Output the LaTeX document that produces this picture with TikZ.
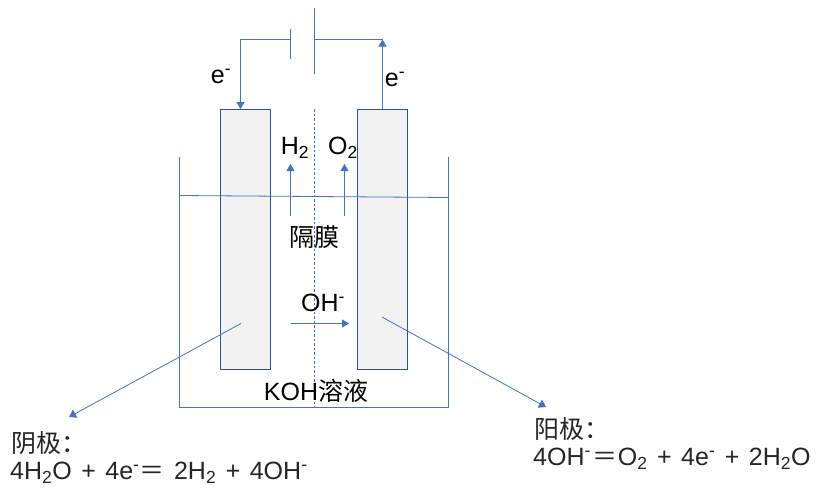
\documentclass[tikz,border=0pt]{standalone}
\usepackage{fontspec}
\setmainfont{Liberation Sans}
\newfontfamily\cjk{Noto Sans CJK SC}
\usepackage{tikz}
\usetikzlibrary{arrows.meta}
\definecolor{ELBlue}{RGB}{68,114,196}
\definecolor{ELNavy}{RGB}{47,82,143}
\definecolor{ELFill}{RGB}{242,242,242}
\definecolor{ELText}{RGB}{38,38,38}
\newcommand{\sub}[1]{\textsubscript{#1}}
\newcommand{\minus}{\textsuperscript{-}}
\newcommand{\eqsign}{{\cjk ＝}}
\newcommand{\plusgap}{\hspace{9.5pt}}

\begin{document}
\begin{tikzpicture}[x=1pt, y=-1pt,
      wire/.style={ELBlue, line width=1pt},
      flow/.style={wire, -{Triangle[length=7pt, width=8pt]}},
      thin flow/.style={ELBlue, line width=0.8pt, -{Triangle[length=7pt, width=9pt]}},
      electrode/.style={rectangle, draw=ELNavy, fill=ELFill, line width=1pt,
                  minimum width=50pt, minimum height=260pt, inner sep=0pt},
      lbl/.style={font=\fontsize{25}{28}\selectfont, text=black, inner sep=0pt},
      note/.style={font=\fontsize{25}{28}\selectfont, text=ELText, inner sep=0pt, anchor=west}
    ]
    \useasboundingbox (0,0) rectangle (817,499);

    %--- Electrodes ---
    \node[electrode] (cathode) at (245.5,239) {};
    \node[electrode] (anode) at (382.5,239) {};

    %--- Battery and outer circuit ---
    \coordinate (plateLtop) at (290.5,29);
    \coordinate (plateLbot) at (290.5,59);
    \coordinate (plateRtop) at (314.5,8);
    \coordinate (plateRbot) at (314.5,74);
    \coordinate (plateL) at (290.5,39.5);
    \coordinate (plateR) at (314.5,39.5);
    \coordinate (cathodetop) at (240.5,109);
    \draw[wire] (plateLtop) -- (plateLbot);
    \draw[wire] (plateRtop) -- (plateRbot);
    \draw[flow] (plateL) -| (cathodetop);
    \draw[wire] (plateR) -- (382.5,39.5);
    \draw[flow] (anode.north) -- (382.5,39.5);

    %--- Cell ---
    \coordinate (tankTL) at (179.5,157);
    \coordinate (tankBL) at (179.5,407);
    \coordinate (tankBR) at (448.5,407);
    \coordinate (tankTR) at (448.5,157);
    \draw[wire] (tankTL) -- (tankBL) -- (tankBR) -- (tankTR);
    \coordinate (levelL) at (179.5,195.5);
    \coordinate (levelR) at (448.5,197.5);
    \draw[ELBlue, line width=0.8pt] (levelL) -- (levelR);
    % Membrane
    \coordinate (memtop) at (314.5,109);
    \coordinate (membot) at (314.5,407);
    \draw[ELBlue, line width=0.8pt, dash pattern=on 2.5pt off 2pt] (memtop) -- (membot);

    %--- Gas and ion arrows ---
    \coordinate (hstart) at (290.5,216);
    \coordinate (hend) at (290.5,164);
    \coordinate (ostart) at (344.5,216);
    \coordinate (oend) at (344.5,164);
    \coordinate (ohstart) at (290.5,323.5);
    \coordinate (ohend) at (349,323.5);
    \draw[flow] (hstart) -- (hend);
    \draw[flow] (ostart) -- (oend);
    \draw[flow] (ohstart) -- (ohend);

    %--- Pointers to the half reactions ---
    \coordinate (cathodein) at (241,323.5);
    \coordinate (cathodetip) at (69,417);
    \coordinate (anodein) at (382,317);
    \coordinate (anodetip) at (546,407);
    \draw[thin flow] (cathodein) -- (cathodetip);
    \draw[thin flow] (anodein) -- (anodetip);

    %--- Labels ---
    \node[lbl] (eleft) at (221,76) {e\minus};
    \node[lbl] (eright) at (395,79) {e\minus};
    \node[lbl] (htwo) at (295,148) {H\sub{2}};
    \node[lbl] (otwo) at (343,148) {O\sub{2}};
    \node[lbl] (membrane) at (314,237) {\cjk 隔膜};
    \node[lbl] (ohion) at (323,303) {OH\minus};
    \node[lbl] (koh) at (316,391) {KOH{\cjk 溶液}};

    \node[note] (cathodename) at (11,443) {\cjk 阴极：};
    \node[note] (cathodeeq) at (10,473) {4H\sub{2}O\plusgap+\plusgap4e\minus\eqsign{}\plusgap2H\sub{2}\plusgap+\plusgap4OH\minus};
    \node[note] (anodename) at (534,429) {\cjk 阳极：};
    \node[note] (anodeeq) at (533,459) {4OH\minus\hspace{2pt}\eqsign{}O\sub{2}\plusgap+\plusgap4e\minus\plusgap+\plusgap2H\sub{2}O};
  \end{tikzpicture}
\end{document}
